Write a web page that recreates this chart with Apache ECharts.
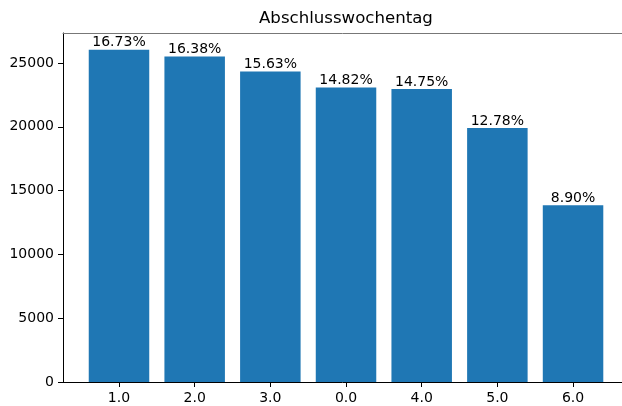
<!DOCTYPE html>
<html>
<head>
<meta charset="utf-8">
<script src="https://cdn.jsdelivr.net/npm/echarts@6/dist/echarts.min.js"></script>
<style>
  html, body { margin: 0; padding: 0; background: #fff; }
  #chart { width: 622px; height: 406px; }
</style>
</head>
<body>
<div id="chart"></div>
<script>
// weekday of closing, sorted by count
const categories = ['1.0', '2.0', '3.0', '0.0', '4.0', '5.0', '6.0']
const counts = [26050, 25505, 24337, 23076, 22967, 19899, 13858]
const percentLabels = ['16.73%', '16.38%', '15.63%', '14.82%', '14.75%', '12.78%', '8.90%']
const yTicks = [0, 5000, 10000, 15000, 20000, 25000]

const font = 'DejaVu Sans'
const chart = echarts.init(document.getElementById('chart'))

// the original plot is cut off at the right edge, so the x range stops short
const xMin = -0.74
const xMax = 6.647

chart.setOption({
  animation: false,
  title: {
    text: 'Abschlusswochentag',
    left: 259,
    top: 10,
    padding: 0,
    textStyle: { fontFamily: font, fontSize: 16.6, fontWeight: 'normal', color: '#000' }
  },
  grid: { left: 63, top: 33, right: 0, bottom: 24 },
  xAxis: [{
    type: 'value',
    min: xMin,
    max: xMax,
    splitLine: { show: false },
    axisLine: { onZero: false, lineStyle: { color: '#000', width: 1 } },
    axisTick: { customValues: categories.map((c, i) => i), length: 5, lineStyle: { color: '#000' } },
    axisLabel: {
      customValues: categories.map((c, i) => i),
      formatter: v => categories[Math.round(v)],
      fontFamily: font, fontSize: 14, color: '#000', margin: 9
    }
  }, {
    type: 'value',
    position: 'top',
    min: xMin,
    max: xMax,
    splitLine: { show: false },
    axisLine: { onZero: false, lineStyle: { color: '#777', width: 1 } },
    axisTick: { show: false },
    axisLabel: { show: false }
  }],
  yAxis: {
    type: 'value',
    min: 0,
    max: 27353,
    splitLine: { show: false },
    axisLine: { show: true, onZero: false, lineStyle: { color: '#000', width: 1 } },
    axisTick: { show: true, customValues: yTicks, length: 5, lineStyle: { color: '#000' } },
    axisLabel: {
      customValues: yTicks,
      formatter: v => String(v),
      fontFamily: font, fontSize: 14, color: '#000', margin: 9
    }
  },
  series: [{
    type: 'bar',
    xAxisIndex: 0,
    barWidth: 60.5,
    itemStyle: { color: '#1f77b4' },
    data: counts.map((v, i) => [i, v]),
    label: {
      show: true,
      position: 'top',
      distance: 0,
      formatter: p => percentLabels[p.dataIndex],
      fontFamily: font, fontSize: 14, color: '#000'
    }
  }]
})
</script>
</body>
</html>
